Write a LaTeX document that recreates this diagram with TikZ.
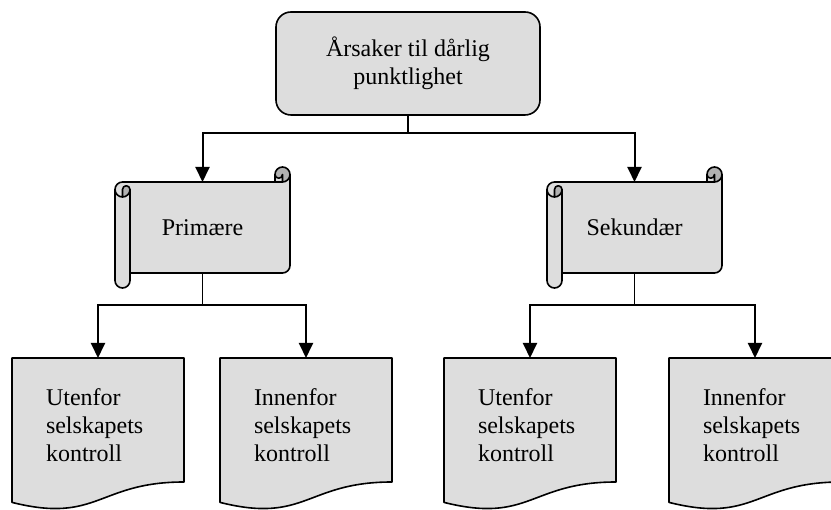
\documentclass[tikz,border=0pt]{standalone}
\usepackage{fontspec}
\setmainfont{Liberation Serif}
\usetikzlibrary{arrows.meta,calc,backgrounds}

\definecolor{boxfill}{HTML}{DDDDDD}
\definecolor{curlfill}{HTML}{B2B2B2}

\tikzset{
  shapeline/.style={draw=black, line width=1.6pt, line join=round},
  labeltext/.style={font=\fontsize{24pt}{28pt}\selectfont},
  causebox/.style={labeltext, shapeline, fill=boxfill, rounded corners=15pt,
    minimum width=264pt, minimum height=103pt, align=center, inner sep=0pt, outer sep=0pt},
  scrollnode/.style={labeltext, minimum width=175pt, minimum height=121pt,
    inner sep=0pt, outer sep=0pt},
  docnode/.style={labeltext, anchor=north, text width=104pt, inner xsep=34pt,
    inner ysep=0pt, minimum height=134pt, align=left, outer sep=0pt},
  stem/.style={line width=1.2pt},
  feed/.style={line width=2pt, -{Triangle[length=15pt,width=14pt]}},
}

% horizontal scroll, drawn in the local frame of a 175 x 121 node
\newcommand{\drawscroll}[1]{%
  \begin{scope}[shift={(#1.south west)}]
    % paper
    \fill[boxfill] (175,113.5) arc[start angle=0,end angle=-90,radius=7.5]
      -- (167.5,113.5) arc[start angle=0,end angle=-180,radius=3.75]
      -- (160,106) -- (7.5,106) arc[start angle=90,end angle=180,radius=7.5]
      -- (0,7.5) arc[start angle=180,end angle=360,radius=7.5]
      -- (15,15) -- (167.5,15) arc[start angle=-90,end angle=0,radius=7.5] -- cycle;
    % shaded insides of the curls
    \fill[curlfill] (7.5,91) arc[start angle=-90,end angle=0,radius=7.5]
      arc[start angle=0,end angle=180,radius=3.75] -- cycle;
    \fill[curlfill] (167.5,106) arc[start angle=-90,end angle=180,radius=7.5]
      arc[start angle=180,end angle=360,radius=3.75] -- cycle;
    % outline
    \draw[shapeline] (0,98.5) arc[start angle=180,end angle=90,radius=7.5]
      -- (160,106) -- (160,113.5) arc[start angle=180,end angle=0,radius=7.5]
      -- (175,22.5) arc[start angle=0,end angle=-90,radius=7.5]
      -- (15,15) -- (15,7.5) arc[start angle=0,end angle=-180,radius=7.5] -- cycle;
    \draw[shapeline] (160,106) -- (167.5,106) arc[start angle=-90,end angle=0,radius=7.5];
    \draw[shapeline] (167.5,106) -- (167.5,113.5) arc[start angle=0,end angle=-180,radius=3.75];
    \draw[shapeline] (7.5,91) -- (7.5,98.5) arc[start angle=180,end angle=0,radius=3.75]
      arc[start angle=0,end angle=-180,radius=7.5];
    \draw[shapeline] (15,98.5) -- (15,15);
  \end{scope}}

% document sheet with a wavy lower edge, hung from the top of a node
\newcommand{\drawdoc}[1]{%
  \draw[shapeline, fill=boxfill] (#1.north west) -- (#1.north east)
    -- ($(#1.north east)+(0,-124)$)
    .. controls ($(#1.north)+(0,-124)$) and ($(#1.north)+(0,-166)$)
    .. ($(#1.north west)+(0,-144.4)$) -- cycle;}

\begin{document}
\begin{tikzpicture}[x=1pt,y=1pt]
\useasboundingbox (0,0) rectangle (831,510);

\node[causebox] (cause) at (408,446.5) {Årsaker til dårlig\\punktlighet};

\node[scrollnode] (prim) at (202.5,282.5) {Primære};
\node[scrollnode] (sec) at (634.5,282.5) {Sekundær};

\node[docnode] (d1) at (98,152) {Utenfor\\selskapets\\kontroll};
\node[docnode] (d2) at (306,152) {Innenfor\\selskapets\\kontroll};
\node[docnode] (d3) at (530,152) {Utenfor\\selskapets\\kontroll};
\node[docnode] (d4) at (755,152) {Innenfor\\selskapets\\kontroll};

\begin{scope}[on background layer]
  \drawscroll{prim}
  \drawscroll{sec}
  \drawdoc{d1}
  \drawdoc{d2}
  \drawdoc{d3}
  \drawdoc{d4}
\end{scope}

% top and bottom edges of the scroll paper
\coordinate (prim-in) at ($(prim.north)+(0,-15)$);
\coordinate (prim-out) at ($(prim.south)+(0,15)$);
\coordinate (sec-in) at ($(sec.north)+(0,-15)$);
\coordinate (sec-out) at ($(sec.south)+(0,15)$);

\draw[stem] (cause.south) -- ++(0,-18) coordinate (j0);
\draw[feed] (j0) -| (prim-in);
\draw[feed] (j0) -| (sec-in);

\draw[stem] (prim-out) -- ++(0,-32) coordinate (j1);
\draw[feed] (j1) -| (d1.north);
\draw[feed] (j1) -| (d2.north);

\draw[stem] (sec-out) -- ++(0,-32) coordinate (j2);
\draw[feed] (j2) -| (d3.north);
\draw[feed] (j2) -| (d4.north);
\end{tikzpicture}
\end{document}
